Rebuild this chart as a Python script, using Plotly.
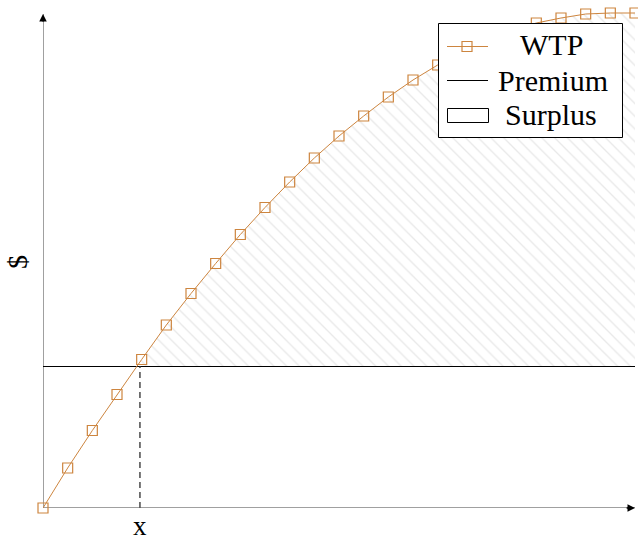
import plotly.graph_objects as go

# Data
x_vals = list(range(25))
wtp = [0.0, 8.0, 15.5, 22.7, 29.7, 36.6, 42.9, 48.9, 54.7, 60.1, 65.2, 70.0,
       74.4, 78.4, 82.2, 85.6, 88.6, 91.2, 93.4, 95.4, 97.0, 98.0, 98.8, 99.0, 99.0]
premium = 28.3
x_cross = 3.93
x_label = "x"
y_label = "$"
legend_names = ["WTP", "Premium", "Surplus"]

ORANGE = "#CD853F"
FONT = "Liberation Serif"
W, H = 638, 540
ML, MR, MT, MB = 43, 3, 8, 32
Y_MAX = 100
Y_TIP = 98.8


def px(p):  # pixel x -> paper
    return (p - ML) / (W - ML - MR)


def py(p):  # pixel y -> paper
    return (H - MB - p) / (H - MT - MB)


# surplus polygon between WTP and premium, from the crossing onward
sx = [x_cross] + [x for x, w in zip(x_vals, wtp) if x > x_cross] + [x_vals[-1], x_cross]
sy = [premium] + [w for x, w in zip(x_vals, wtp) if x > x_cross] + [premium, premium]

fig = go.Figure()

fig.add_trace(go.Scatter(
    x=sx, y=sy, mode="lines", fill="toself", showlegend=False,
    line=dict(width=0, color="rgba(0,0,0,0)"),
    fillcolor="rgba(255,255,255,0)",
    fillpattern=dict(shape="\\", fgcolor="#d2d2d2", bgcolor="rgba(255,255,255,0)",
                     size=9, solidity=0.15),
    hoverinfo="skip",
))

fig.add_trace(go.Scatter(
    x=[0, x_vals[-1]], y=[premium, premium], mode="lines", showlegend=False,
    line=dict(color="black", width=1), hoverinfo="skip",
))

fig.add_trace(go.Scatter(
    x=[x_cross, x_cross], y=[0, premium], mode="lines", showlegend=False,
    line=dict(color="#555555", width=1.6, dash="6px,4px"), hoverinfo="skip",
))

fig.add_trace(go.Scatter(
    x=x_vals, y=wtp, mode="lines+markers", name=legend_names[0], showlegend=False,
    line=dict(color=ORANGE, width=1),
    marker=dict(symbol="square-open", size=10, color=ORANGE, line=dict(width=1.2, color=ORANGE)),
    cliponaxis=False,
))

shapes = [
    # axis lines
    dict(type="line", xref="x", yref="y", x0=0, y0=0, x1=x_vals[-1], y1=0,
         line=dict(color="#808080", width=1.5), layer="below"),
    dict(type="line", xref="x", yref="y", x0=0, y0=0, x1=0, y1=Y_TIP,
         line=dict(color="#808080", width=1.5), layer="below"),
    # legend box
    dict(type="rect", xref="paper", yref="paper", x0=px(438.5), x1=px(622.5), y0=py(137.5), y1=py(23.5),
         line=dict(color="black", width=1), fillcolor="white", layer="above"),
    # WTP sample
    dict(type="line", xref="paper", yref="paper", x0=px(447), x1=px(488), y0=py(46.5), y1=py(46.5),
         line=dict(color=ORANGE, width=1)),
    dict(type="rect", xref="paper", yref="paper", x0=px(462), x1=px(472), y0=py(51.5), y1=py(41.5),
         line=dict(color=ORANGE, width=1.2), fillcolor="rgba(0,0,0,0)"),
    # Premium sample
    dict(type="line", xref="paper", yref="paper", x0=px(447), x1=px(488), y0=py(80.5), y1=py(80.5),
         line=dict(color="black", width=1)),
    # Surplus sample
    dict(type="rect", xref="paper", yref="paper", x0=px(447.5), x1=px(488.5), y0=py(122.5), y1=py(108.5),
         line=dict(color="black", width=1), fillcolor="white"),
]

annotations = [
    dict(x=x_vals[-1], y=0, ax=x_vals[-1] - 0.4, ay=0, xref="x", yref="y", axref="x", ayref="y",
         showarrow=True, arrowhead=2, arrowsize=1, arrowwidth=1.5, arrowcolor="black", text=""),
    dict(x=0, y=Y_TIP, ax=0, ay=Y_TIP - 1.8, xref="x", yref="y", axref="x", ayref="y",
         showarrow=True, arrowhead=2, arrowsize=1, arrowwidth=1.5, arrowcolor="black", text=""),
    dict(x=x_cross, y=py(540), xref="x", yref="paper", xanchor="center", yanchor="bottom",
         yshift=-3, showarrow=False, text=x_label, font=dict(family=FONT, size=27)),
    dict(x=px(17), y=py(262), xref="paper", yref="paper", xanchor="center", yanchor="middle",
         showarrow=False, text=y_label, textangle=-90, font=dict(family=FONT, size=28)),
]
for name, yc, xc in zip(legend_names, [45, 80, 115], [551, 553, 551]):
    annotations.append(dict(x=px(xc), y=py(yc), xref="paper", yref="paper",
                            xanchor="center", yanchor="middle", showarrow=False,
                            text=name, font=dict(family=FONT, size=30)))

fig.update_layout(
    width=W, height=H,
    margin=dict(l=ML, r=MR, t=MT, b=MB),
    paper_bgcolor="white", plot_bgcolor="white",
    font=dict(family=FONT, size=20, color="black"),
    showlegend=False,
    xaxis=dict(range=[0, x_vals[-1]], showgrid=False, zeroline=False, showticklabels=False,
               ticks="", showline=False),
    yaxis=dict(range=[0, Y_MAX], showgrid=False, zeroline=False, showticklabels=False,
               ticks="", showline=False),
    shapes=shapes,
    annotations=annotations,
)

fig.write_html("out.html")
